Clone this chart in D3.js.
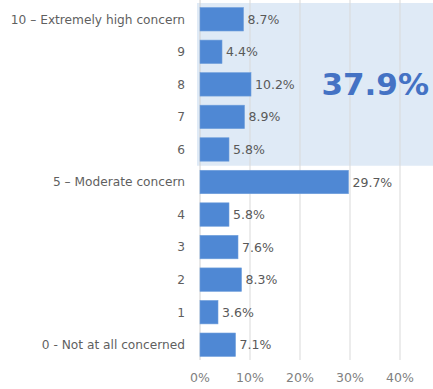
<!DOCTYPE html>
<html>
<head>
<meta charset="utf-8">
<script src="https://cdn.jsdelivr.net/npm/d3@7"></script>
<style>
  html, body { margin: 0; padding: 0; background: #ffffff; }
  svg { display: block; }
</style>
</head>
<body>
<svg id="chart" width="433" height="389"></svg>
<script>
// Level of concern, share of respondents (%)
const categories = [
  "10 – Extremely high concern", "9", "8", "7", "6",
  "5 – Moderate concern", "4", "3", "2", "1", "0 - Not at all concerned"
];
const values = [8.7, 4.4, 10.2, 8.9, 5.8, 29.7, 5.8, 7.6, 8.3, 3.6, 7.1];
const xTicks = [0, 10, 20, 30, 40];
// Combined share of the high-concern group (6–10)
const highGroup = ["10 – Extremely high concern", "9", "8", "7", "6"];
const highTotal = "37.9%";

const svg = d3.select("#chart");
const W = 433, H = 389;
const margin = { left: 200, right: 33, top: 3, bottom: 30 };

const x = d3.scaleLinear().domain([0, 40]).range([margin.left, W - margin.right]);
const y = d3.scaleBand().domain(categories).range([margin.top, 361]).paddingInner(0.28).paddingOuter(0.14);

const font = "'DejaVu Sans', sans-serif";

// Highlight panel behind the high-concern rows
const step = y.step();
const hiTop = y(highGroup[0]) - (step - y.bandwidth()) / 2;
const hiBot = y(highGroup[highGroup.length - 1]) + y.bandwidth() + (step - y.bandwidth()) / 2;
svg.append("rect")
  .attr("x", x(0) - 3).attr("y", hiTop)
  .attr("width", W - (x(0) - 3)).attr("height", hiBot - hiTop)
  .attr("fill", "#dfeaf6");

// Vertical gridlines
svg.append("g").selectAll("line").data(xTicks).join("line")
  .attr("x1", d => x(d)).attr("x2", d => x(d))
  .attr("y1", 0).attr("y2", 360)
  .attr("stroke", d => d === 0 ? "#d0d0d0" : "#d9d9d9")
  .attr("stroke-width", 1);

// X axis tick labels
svg.append("g").selectAll("text").data(xTicks).join("text")
  .attr("x", d => x(d)).attr("y", 382)
  .attr("text-anchor", "middle")
  .attr("font-family", font).attr("font-size", 12.5)
  .attr("fill", "#808080")
  .text(d => d + "%");

// Bars
svg.append("g").selectAll("rect").data(values).join("rect")
  .attr("x", x(0))
  .attr("y", (d, i) => y(categories[i]))
  .attr("width", d => x(d) - x(0))
  .attr("height", y.bandwidth())
  .attr("fill", "#4f88d4")
  .attr("stroke", "#6e9edb").attr("stroke-width", 0.6);

// Value labels
svg.append("g").selectAll("text").data(values).join("text")
  .attr("x", d => x(d) + 4)
  .attr("y", (d, i) => y(categories[i]) + y.bandwidth() / 2)
  .attr("dy", "0.36em")
  .attr("font-family", font).attr("font-size", 12.5)
  .attr("fill", "#595959")
  .text(d => d.toFixed(1) + "%");

// Category labels
svg.append("g").selectAll("text").data(categories).join("text")
  .attr("x", 185)
  .attr("y", d => y(d) + y.bandwidth() / 2)
  .attr("dy", "0.36em")
  .attr("text-anchor", "end")
  .attr("font-family", font).attr("font-size", 12.2)
  .attr("fill", "#5f5f5f")
  .text(d => d);

// Group total
svg.append("text")
  .attr("x", 429).attr("y", (hiTop + hiBot) / 2 + 11)
  .attr("text-anchor", "end")
  .attr("font-family", font).attr("font-size", 31).attr("font-weight", 700)
  .attr("fill", "#4472c4")
  .text(highTotal);
</script>
</body>
</html>
